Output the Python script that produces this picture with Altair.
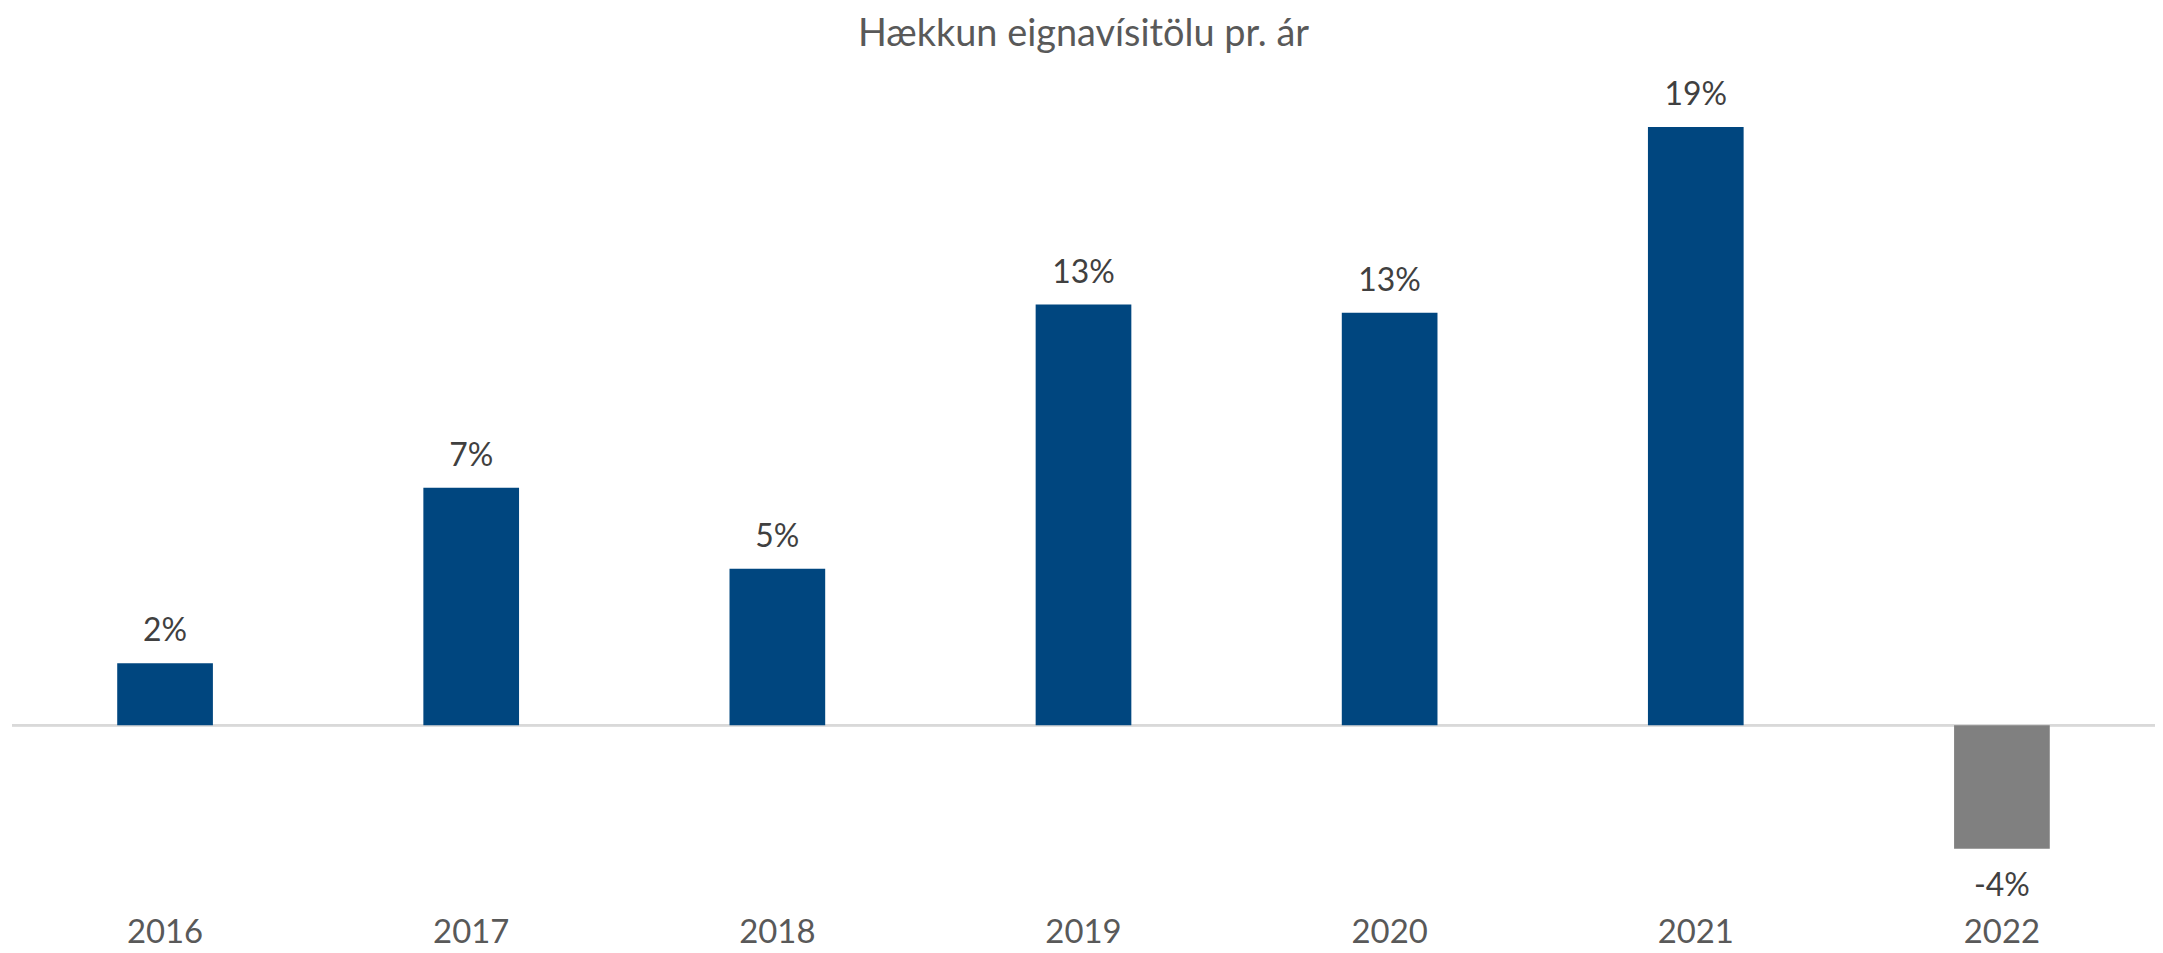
import altair as alt
import pandas as pd

years = ["2016", "2017", "2018", "2019", "2020", "2021", "2022"]
growth = [0.0195, 0.0749, 0.0493, 0.1327, 0.1301, 0.1887, -0.0390]
colors = ["#00467F", "#00467F", "#00467F", "#00467F", "#00467F", "#00467F", "#808080"]

df = pd.DataFrame({"ar": years, "v": growth, "c": colors, "z": [0.0] * len(years)})

FONT = "Lato"
YSCALE = alt.Scale(domain=[-0.0563, 0.2094], nice=False, zero=False)

x = alt.X(
    "ar:N",
    sort=years,
    title=None,
    scale=alt.Scale(paddingInner=0, paddingOuter=0),
    axis=alt.Axis(
        domain=False,
        ticks=False,
        grid=False,
        labelFont=FONT,
        labelFontSize=33,
        labelColor="#595959",
        labelAngle=0,
        labelBaseline="alphabetic",
        labelPadding=39,
    ),
)
y = alt.Y("v:Q", title=None, scale=YSCALE, axis=None)

base = alt.Chart(df).transform_calculate(
    lbl="replace(format(datum.v, '.0%'), '\u2212', '-')"
)

bars = base.mark_bar(size=96).encode(
    x=x, y=y, y2=alt.Y2("z:Q"), color=alt.Color("c:N", scale=None, legend=None)
)

zero = base.mark_rule(color="#D9D9D9", strokeWidth=2).encode(
    y=alt.Y("z:Q", scale=YSCALE, axis=None)
)

pos_lbl = base.transform_filter("datum.v >= 0").mark_text(
    font=FONT, fontSize=32, color="#404040", baseline="alphabetic", dy=-22
).encode(x=x, y=y, text="lbl:N")

neg_lbl = base.transform_filter("datum.v < 0").mark_text(
    font=FONT, fontSize=32, color="#404040", baseline="alphabetic", dy=47
).encode(x=x, y=y, text="lbl:N")

chart = (
    alt.layer(zero, bars, pos_lbl, neg_lbl)
    .properties(
        width=2150,
        height=845,
        autosize=alt.AutoSizeParams(type="none"),
        padding={"left": 4, "top": 52, "right": 0, "bottom": 44},
        title=alt.TitleParams(
            "Hækkun eignavísitölu pr. ár",
            font=FONT,
            fontSize=38,
            fontWeight="normal",
            color="#595959",
            anchor="middle",
            offset=7,
        ),
    )
    .configure_view(stroke="transparent", strokeWidth=0)
)

chart.save("out.html", embed_options={"renderer": "svg", "actions": False})
